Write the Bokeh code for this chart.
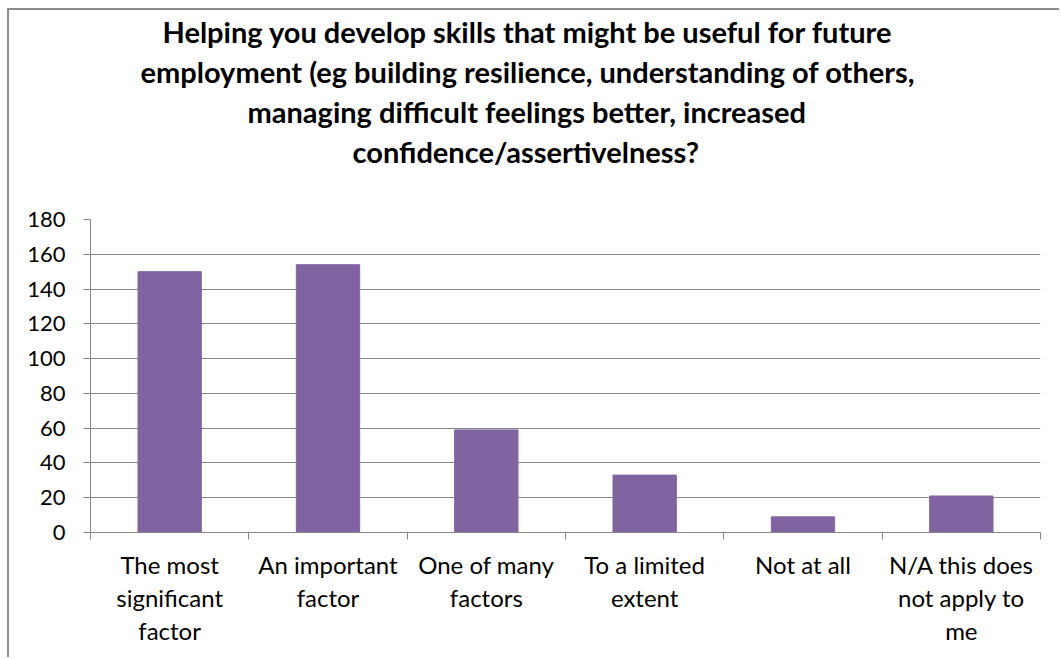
from bokeh.plotting import figure
from bokeh.models import Range1d, LinearAxis, FixedTicker, Title
from bokeh.embed import file_html
from bokeh.resources import INLINE

# ---- data ----
categories = ["The most\nsignificant\nfactor", "An important\nfactor", "One of many\nfactors",
              "To a limited\nextent", "Not at all", "N/A this does\nnot apply to\nme"]
values = [150, 154, 59, 33, 9, 21]
y_ticks = [0, 20, 40, 60, 80, 100, 120, 140, 160, 180]
title_lines = ["Helping you develop skills that might be useful for future",
               "employment (eg building resilience, understanding of others,",
               "managing difficult feelings better, increased",
               "confidence/assertivelness?"]

GRAY = "#868686"
BAR = "#8064A2"
FONT = "Lato"

n = len(categories)
centers = [i + 0.5 for i in range(n)]
edges = list(range(n + 1))

p = figure(x_range=Range1d(0, n), y_range=Range1d(0, 180),
           width=1052, height=649,
           output_backend="svg", toolbar_location=None,
           x_axis_location=None, y_axis_location=None,
           min_border_left=81, min_border_right=21,
           min_border_top=208, min_border_bottom=127)
p.margin = (10, 0, 0, 9)
p.styles = {"box-shadow": "-2px -2px 0px 0px #8c8c8c"}
p.outline_line_color = None
p.background_fill_color = "white"
p.border_fill_color = "white"

p.vbar(x=centers, top=values, width=0.4, fill_color=BAR, line_color=BAR)

# title: one Title per line; p.title is the outermost, added ones stack from the frame out
title_offsets = [72, 50, 157, 262]

def style_title(t, offset, standoff):
    t.align = "left"
    t.offset = offset
    t.standoff = standoff
    t.text_font = FONT
    t.text_font_style = "bold"
    t.text_font_size = "29px"
    t.text_color = "black"

# spacer between the title block and the plot area
spacer = Title(text=" ", text_font_size="1px", standoff=46)
p.add_layout(spacer, "above")

p.title.text = title_lines[0]
style_title(p.title, title_offsets[0], 3)
for i in [3, 2, 1]:
    t = Title(text=title_lines[i])
    style_title(t, title_offsets[i], 3)
    p.add_layout(t, "above")

# y axis
yaxis = LinearAxis(ticker=FixedTicker(ticks=y_ticks))
yaxis.axis_line_color = GRAY
yaxis.major_tick_line_color = GRAY
yaxis.major_tick_out = 7
yaxis.major_tick_in = 0
yaxis.minor_tick_line_color = None
yaxis.major_label_text_font = FONT
yaxis.major_label_text_font_size = "22px"
yaxis.major_label_text_color = "black"
yaxis.major_label_standoff = 18
p.add_layout(yaxis, "left")

# grid
p.xgrid.visible = False
p.ygrid.ticker = FixedTicker(ticks=y_ticks)
p.ygrid.grid_line_color = GRAY
p.ygrid.grid_line_width = 1

# boundary tick axis (ticks between categories)
edge_axis = LinearAxis(ticker=FixedTicker(ticks=edges))
edge_axis.axis_line_color = GRAY
edge_axis.major_tick_line_color = GRAY
edge_axis.major_tick_out = 7
edge_axis.major_tick_in = 0
edge_axis.minor_tick_line_color = None
edge_axis.major_label_text_font_size = "0px"
edge_axis.major_label_standoff = 0
edge_axis.major_label_overrides = {e: "" for e in edges}

# category label axis
cat_axis = LinearAxis(ticker=FixedTicker(ticks=centers))
cat_axis.major_label_overrides = {c: lab for c, lab in zip(centers, categories)}
cat_axis.axis_line_color = None
cat_axis.major_tick_line_color = None
cat_axis.minor_tick_line_color = None
cat_axis.major_label_text_font = FONT
cat_axis.major_label_text_font_size = "24px"
cat_axis.major_label_text_color = "black"
cat_axis.major_label_text_line_height = 1.14
cat_axis.major_label_standoff = 4
cat_axis.major_label_orientation = "horizontal"

p.add_layout(edge_axis, "below")
p.add_layout(cat_axis, "below")
p.below = [edge_axis, cat_axis]

open("out.html", "w").write(file_html(p, INLINE))
